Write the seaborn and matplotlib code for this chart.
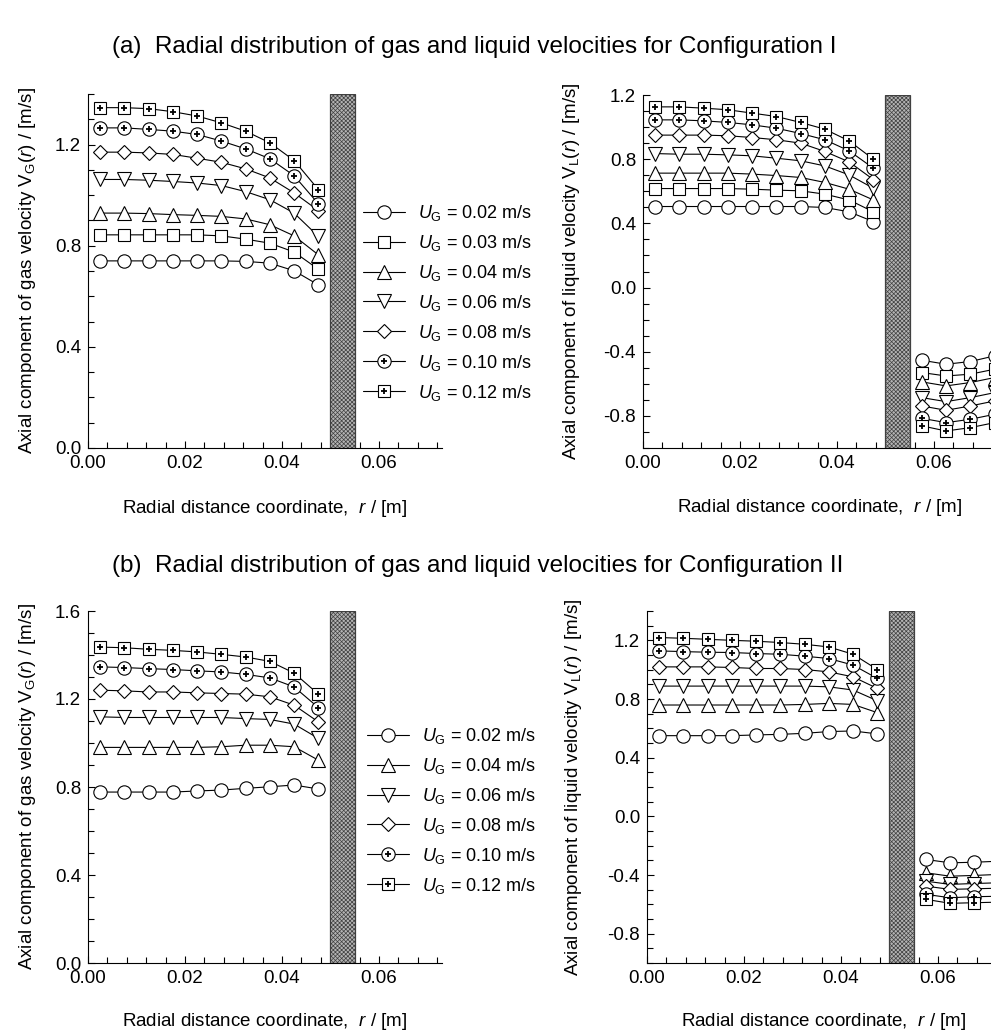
import numpy as np
import pandas as pd
import seaborn as sns
import matplotlib.pyplot as plt
from matplotlib.lines import Line2D
from matplotlib.ticker import MultipleLocator, FormatStrFormatter

# radial positions of the measuring points [m]
r_core = [0.0025, 0.0075, 0.0125, 0.0175, 0.0225, 0.0275, 0.0325, 0.0375, 0.0425, 0.0475]
r_annulus = [0.0575, 0.0625, 0.0675, 0.0725]

# (a) Configuration I - gas velocity
vg1_002 = [0.740, 0.740, 0.740, 0.740, 0.740, 0.740, 0.738, 0.731, 0.701, 0.645]
vg1_003 = [0.843, 0.843, 0.843, 0.843, 0.843, 0.839, 0.826, 0.810, 0.775, 0.707]
vg1_004 = [0.929, 0.929, 0.927, 0.923, 0.920, 0.916, 0.906, 0.883, 0.839, 0.764]
vg1_006 = [1.062, 1.062, 1.059, 1.054, 1.048, 1.038, 1.014, 0.982, 0.929, 0.837]
vg1_008 = [1.170, 1.170, 1.167, 1.161, 1.146, 1.130, 1.104, 1.068, 1.009, 0.939]
vg1_010 = [1.266, 1.266, 1.260, 1.253, 1.240, 1.214, 1.183, 1.144, 1.077, 0.966]
vg1_012 = [1.346, 1.346, 1.342, 1.330, 1.313, 1.286, 1.253, 1.207, 1.137, 1.022]

# (a) Configuration I - liquid velocity, riser and annulus
vl1_002 = [0.505, 0.505, 0.505, 0.505, 0.505, 0.505, 0.505, 0.499, 0.472, 0.411]
vl1_003 = [0.617, 0.617, 0.617, 0.617, 0.613, 0.607, 0.603, 0.582, 0.546, 0.472]
vl1_004 = [0.713, 0.713, 0.713, 0.713, 0.707, 0.698, 0.686, 0.655, 0.613, 0.546]
vl1_006 = [0.835, 0.831, 0.831, 0.827, 0.821, 0.806, 0.790, 0.758, 0.702, 0.619]
vl1_008 = [0.950, 0.950, 0.950, 0.946, 0.935, 0.921, 0.900, 0.848, 0.783, 0.673]
vl1_010 = [1.045, 1.045, 1.039, 1.029, 1.014, 0.993, 0.960, 0.921, 0.852, 0.744]
vl1_012 = [1.126, 1.126, 1.118, 1.108, 1.087, 1.066, 1.029, 0.987, 0.914, 0.800]
vl1a_002 = [-0.453, -0.478, -0.461, -0.426]
vl1a_003 = [-0.530, -0.551, -0.540, -0.509]
vl1a_004 = [-0.588, -0.613, -0.592, -0.561]
vl1a_006 = [-0.686, -0.711, -0.686, -0.655]
vl1a_008 = [-0.738, -0.765, -0.738, -0.707]
vl1a_010 = [-0.815, -0.842, -0.821, -0.790]
vl1a_012 = [-0.862, -0.894, -0.873, -0.842]

# (b) Configuration II - gas velocity
vg2_002 = [0.777, 0.777, 0.777, 0.777, 0.782, 0.786, 0.794, 0.801, 0.809, 0.791]
vg2_004 = [0.980, 0.980, 0.980, 0.980, 0.980, 0.983, 0.990, 0.990, 0.983, 0.922]
vg2_006 = [1.119, 1.116, 1.116, 1.116, 1.116, 1.116, 1.111, 1.107, 1.086, 1.021]
vg2_008 = [1.240, 1.237, 1.232, 1.232, 1.228, 1.225, 1.222, 1.210, 1.172, 1.096]
vg2_010 = [1.346, 1.343, 1.338, 1.334, 1.328, 1.323, 1.312, 1.296, 1.255, 1.161]
vg2_012 = [1.436, 1.433, 1.426, 1.421, 1.414, 1.403, 1.391, 1.371, 1.318, 1.222]

# (b) Configuration II - liquid velocity, riser and annulus
vl2_002 = [0.550, 0.550, 0.550, 0.550, 0.555, 0.559, 0.566, 0.578, 0.582, 0.562]
vl2_004 = [0.759, 0.759, 0.759, 0.759, 0.759, 0.759, 0.763, 0.770, 0.763, 0.707]
vl2_006 = [0.888, 0.888, 0.888, 0.888, 0.888, 0.888, 0.888, 0.883, 0.861, 0.788]
vl2_008 = [1.019, 1.019, 1.019, 1.015, 1.008, 1.008, 1.001, 0.985, 0.951, 0.872]
vl2_010 = [1.128, 1.123, 1.119, 1.117, 1.110, 1.105, 1.092, 1.076, 1.031, 0.940]
vl2_012 = [1.219, 1.214, 1.207, 1.200, 1.194, 1.185, 1.173, 1.155, 1.105, 1.001]
vl2a_002 = [-0.294, -0.317, -0.313, -0.306]
vl2a_004 = [-0.385, -0.408, -0.403, -0.396]
vl2a_006 = [-0.442, -0.464, -0.458, -0.453]
vl2a_008 = [-0.476, -0.498, -0.494, -0.490]
vl2a_010 = [-0.532, -0.555, -0.548, -0.545]
vl2a_012 = [-0.566, -0.593, -0.589, -0.585]

ug_conf1 = ['0.02', '0.03', '0.04', '0.06', '0.08', '0.10', '0.12']
ug_conf2 = ['0.02', '0.04', '0.06', '0.08', '0.10', '0.12']

gas_1 = [vg1_002, vg1_003, vg1_004, vg1_006, vg1_008, vg1_010, vg1_012]
liq_1 = [vl1_002, vl1_003, vl1_004, vl1_006, vl1_008, vl1_010, vl1_012]
liq_1a = [vl1a_002, vl1a_003, vl1a_004, vl1a_006, vl1a_008, vl1a_010, vl1a_012]
gas_2 = [vg2_002, vg2_004, vg2_006, vg2_008, vg2_010, vg2_012]
liq_2 = [vl2_002, vl2_004, vl2_006, vl2_008, vl2_010, vl2_012]
liq_2a = [vl2a_002, vl2a_004, vl2a_006, vl2a_008, vl2a_010, vl2a_012]

# marker per superficial gas velocity: (marker, size, cross inside)
mk = {'0.02': ('o', 9.6, False), '0.03': ('s', 8.0, False), '0.04': ('^', 9.4, False),
      '0.06': ('v', 9.4, False), '0.08': ('D', 7.6, False), '0.10': ('o', 9.6, True),
      '0.12': ('s', 8.0, True)}

sns.set_theme(style='ticks')
plt.rcParams['font.family'] = ['Liberation Sans', 'DejaVu Sans']
plt.rcParams['mathtext.fontset'] = 'custom'
plt.rcParams['mathtext.rm'] = 'Liberation Sans'
plt.rcParams['mathtext.it'] = 'Liberation Sans:italic'
plt.rcParams['axes.unicode_minus'] = False
plt.rcParams['hatch.linewidth'] = 0.5
for k in ['text.color', 'axes.labelcolor', 'xtick.color', 'ytick.color', 'axes.edgecolor']:
    plt.rcParams[k] = 'black'

W, H = 991, 1036
fig = plt.figure(figsize=(W / 100, H / 100), dpi=100)


def add_ax(left, top, bottom, width=354):
    return fig.add_axes([left / W, 1 - bottom / H, width / W, (bottom - top) / H])


def series(ax, x, y, key):
    m, ms, cross = mk[key]
    sns.lineplot(x=x, y=y, ax=ax, color='black', lw=0.8, marker=m, markersize=ms,
                 markerfacecolor='white', markeredgecolor='black', markeredgewidth=0.8,
                 sort=False, zorder=4)
    if cross:
        sns.scatterplot(x=x, y=y, ax=ax, marker='+', s=14, color='black',
                        linewidth=1.3, zorder=5)


def handle(key):
    m, ms, cross = mk[key]
    h = Line2D([], [], color='black', lw=0.8, marker=m, markersize=ms,
               markerfacecolor='white', markeredgecolor='black', markeredgewidth=0.8)
    if cross:
        return (h, Line2D([], [], ls='', marker='+', markersize=3.8, color='black',
                          markeredgewidth=1.3))
    return h


def style(ax, ylim, ylabel, ylab_x, xlab_y):
    ax.axvspan(0.050, 0.055, facecolor='#b4b4b4', edgecolor='#404040',
               hatch='xxxxxxxx', lw=0.9, zorder=2)
    ax.set_xlim(0, 0.073)
    ax.set_ylim(*ylim)
    ax.xaxis.set_major_locator(MultipleLocator(0.02))
    ax.xaxis.set_minor_locator(MultipleLocator(0.004))
    ax.yaxis.set_major_locator(MultipleLocator(0.4))
    ax.yaxis.set_minor_locator(MultipleLocator(0.1))
    ax.xaxis.set_major_formatter(FormatStrFormatter('%.2f'))
    ax.yaxis.set_major_formatter(FormatStrFormatter('%.1f'))
    ax.tick_params(which='both', direction='in', labelsize=13.5, color='black',
                   labelcolor='black', width=0.8, pad=5)
    ax.tick_params(which='major', length=5)
    ax.tick_params(which='minor', length=4)
    for s in ['top', 'right']:
        ax.spines[s].set_visible(False)
    for s in ['left', 'bottom']:
        ax.spines[s].set_color('black')
        ax.spines[s].set_linewidth(0.8)
    ax.set_xlabel(r'Radial distance coordinate,  $\mathit{r}$ / [m]', fontsize=13.5)
    ax.set_ylabel(ylabel, fontsize=13.5)
    ax.yaxis.set_label_coords(ylab_x, 0.5)
    ax.xaxis.set_label_coords(0.5, xlab_y)
    ax.set_facecolor('white')


gas_lab = r'Axial component of gas velocity V$_\mathregular{G}$($\mathit{r}$) / [m/s]'
liq_lab = r'Axial component of liquid velocity V$_\mathregular{L}$($\mathit{r}$) / [m/s]'

# (a) Configuration I
ax1 = add_ax(88, 94, 448)
for key, y in zip(ug_conf1, gas_1):
    series(ax1, r_core, y, key)
style(ax1, (0, 1.4), gas_lab, -0.142, -0.14)

ax2 = add_ax(643, 95, 448)
for key, y, ya in zip(ug_conf1, liq_1, liq_1a):
    series(ax2, r_core, y, key)
    series(ax2, r_annulus, ya, key)
style(ax2, (-1.0, 1.2), liq_lab, -0.172, -0.14)

fig.legend([handle(k) for k in ug_conf1],
           [r'$U_\mathregular{G}$ = %s m/s' % k for k in ug_conf1],
           loc='upper left', bbox_to_anchor=(363 / W, 1 - 203 / H), frameon=False,
           fontsize=13, handlelength=2.3, handletextpad=0.75, labelspacing=0.55,
           borderpad=0, borderaxespad=0)

# (b) Configuration II
ax3 = add_ax(88, 611, 963)
for key, y in zip(ug_conf2, gas_2):
    series(ax3, r_core, y, key)
style(ax3, (0, 1.6), gas_lab, -0.142, -0.135)

ax4 = add_ax(647, 611, 963)
for key, y, ya in zip(ug_conf2, liq_2, liq_2a):
    series(ax4, r_core, y, key)
    series(ax4, r_annulus, ya, key)
style(ax4, (-1.0, 1.4), liq_lab, -0.178, -0.135)

fig.legend([handle(k) for k in ug_conf2],
           [r'$U_\mathregular{G}$ = %s m/s' % k for k in ug_conf2],
           loc='upper left', bbox_to_anchor=(367 / W, 1 - 726 / H), frameon=False,
           fontsize=13, handlelength=2.3, handletextpad=0.75, labelspacing=0.55,
           borderpad=0, borderaxespad=0)

fig.text(474 / W, 1 - 47 / H,
         '(a)  Radial distribution of gas and liquid velocities for Configuration I',
         ha='center', va='center', fontsize=17.5)
fig.text(478 / W, 1 - 566 / H,
         '(b)  Radial distribution of gas and liquid velocities for Configuration II',
         ha='center', va='center', fontsize=17.5)

fig.savefig('out.png', dpi=100, facecolor='white')
